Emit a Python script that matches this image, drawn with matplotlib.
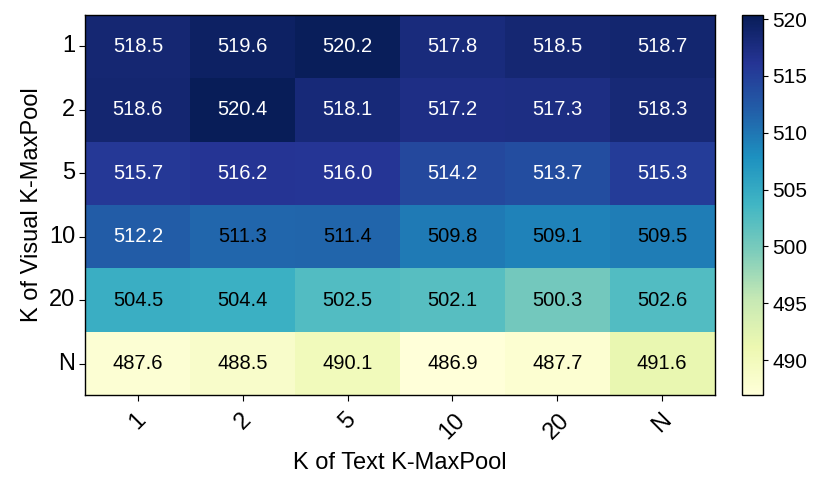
import numpy as np
import matplotlib
matplotlib.use("Agg")
import matplotlib.pyplot as plt
import seaborn as sns

# K values for visual (rows) and text (columns) K-MaxPool
visual_k = ["1", "2", "5", "10", "20", "N"]
text_k = ["1", "2", "5", "10", "20", "N"]

scores = np.array([
    [518.5, 519.6, 520.2, 517.8, 518.5, 518.7],
    [518.6, 520.4, 518.1, 517.2, 517.3, 518.3],
    [515.7, 516.2, 516.0, 514.2, 513.7, 515.3],
    [512.2, 511.3, 511.4, 509.8, 509.1, 509.5],
    [504.5, 504.4, 502.5, 502.1, 500.3, 502.6],
    [487.6, 488.5, 490.1, 486.9, 487.7, 491.6],
])

plt.rcParams["font.family"] = ["Liberation Sans", "DejaVu Sans"]

fig = plt.figure(figsize=(8.3, 4.88), dpi=100)
ax = fig.add_axes([0.103, 0.19, 0.758, 0.78])
cax = fig.add_axes([0.894, 0.19, 0.025, 0.78])

sns.heatmap(scores, ax=ax, cbar_ax=cax, cmap="YlGnBu", annot=False,
            xticklabels=text_k, yticklabels=visual_k,
            vmin=scores.min(), vmax=scores.max())

# annotate cells: white on dark cells, black on light
for i in range(scores.shape[0]):
    for j in range(scores.shape[1]):
        v = scores[i, j]
        ax.text(j + 0.5, i + 0.5, f"{v:.1f}", ha="center", va="center",
                fontsize=14.5, color="white" if v > 511.8 else "black")

for sp in ax.spines.values():
    sp.set_visible(True)
    sp.set_linewidth(1.0)
    sp.set_color("black")

ax.tick_params(axis="both", labelsize=17, length=4)
ax.tick_params(axis="x", pad=6)
plt.setp(ax.get_xticklabels(), rotation=45, ha="center")
plt.setp(ax.get_yticklabels(), rotation=0)
ax.set_xlabel("K of Text K-MaxPool", fontsize=17, labelpad=6)
ax.set_ylabel("K of Visual K-MaxPool", fontsize=17)

cbar = ax.collections[0].colorbar
cbar.set_ticks([490, 495, 500, 505, 510, 515, 520])
cbar.ax.tick_params(labelsize=15)
cbar.outline.set_visible(True)
cbar.outline.set_edgecolor("black")
cbar.outline.set_linewidth(1.0)

fig.savefig("out.png", dpi=100)
